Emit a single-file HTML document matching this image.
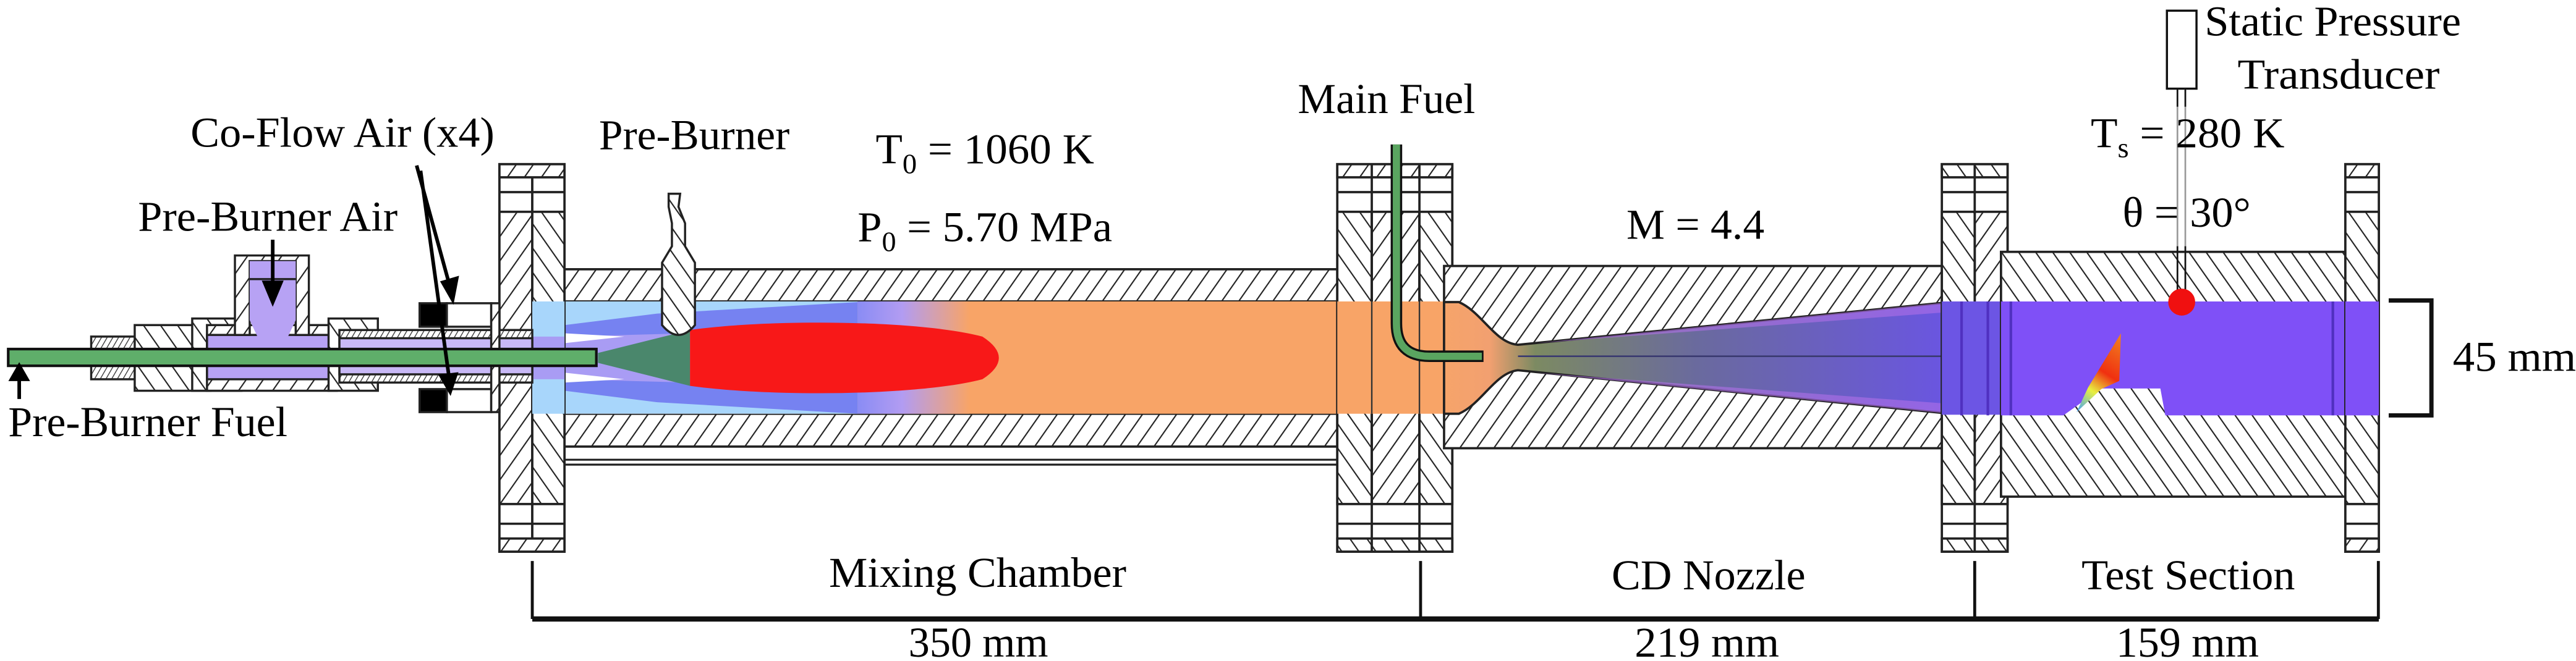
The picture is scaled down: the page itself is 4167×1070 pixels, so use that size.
<!DOCTYPE html>
<html><head><meta charset="utf-8"><style>
html,body{margin:0;padding:0;background:#fff;}
svg{display:block;}
text{font-family:"Liberation Serif","Times New Roman",serif;fill:#000;}
</style></head><body>
<svg width="4167" height="1070" viewBox="0 0 1568 402.6" preserveAspectRatio="none" xmlns="http://www.w3.org/2000/svg">
<defs>
<pattern id="h1" patternUnits="userSpaceOnUse" width="8.5" height="8.5" patternTransform="rotate(35)">
<rect width="8.5" height="8.5" fill="#fff"/><line x1="0" y1="0" x2="0" y2="8.5" stroke="#222" stroke-width="1.6"/></pattern>
<pattern id="h2" patternUnits="userSpaceOnUse" width="8.5" height="8.5" patternTransform="rotate(-35)">
<rect width="8.5" height="8.5" fill="#fff"/><line x1="0" y1="0" x2="0" y2="8.5" stroke="#222" stroke-width="1.6"/></pattern>
<pattern id="h3" patternUnits="userSpaceOnUse" width="3" height="3" patternTransform="rotate(30)">
<rect width="3" height="3" fill="#fff"/><line x1="0" y1="0" x2="0" y2="3" stroke="#333" stroke-width="1"/></pattern>
<linearGradient id="mix" x1="522" x2="590" y1="0" y2="0" gradientUnits="userSpaceOnUse">
<stop offset="0" stop-color="#8a8cf4"/><stop offset="0.4" stop-color="#b29cf2"/><stop offset="1" stop-color="#f8a467"/></linearGradient>
<linearGradient id="noz" x1="879" x2="1187" y1="0" y2="0" gradientUnits="userSpaceOnUse">
<stop offset="0" stop-color="#f6a46a"/><stop offset="0.09" stop-color="#f2a070"/><stop offset="0.18" stop-color="#7c8a62"/><stop offset="0.5" stop-color="#6a6a9e"/><stop offset="1" stop-color="#6a55e2"/></linearGradient>
<linearGradient id="flame" x1="1262" x2="1292" y1="250" y2="205" gradientUnits="userSpaceOnUse">
<stop offset="0" stop-color="#3aa0ff"/><stop offset="0.3" stop-color="#e8f040"/><stop offset="0.55" stop-color="#f03010"/><stop offset="1" stop-color="#f08020"/></linearGradient>
</defs>

<!-- ===== Mixing chamber ===== -->
<rect x="343.6" y="164" width="470.4" height="19.6" fill="url(#h1)" stroke="#222" stroke-width="1.4"/>
<rect x="343.6" y="252" width="470.4" height="20" fill="url(#h1)" stroke="#222" stroke-width="1.4"/>
<line x1="343.6" y1="280" x2="814" y2="280" stroke="#222" stroke-width="1.2"/>
<line x1="343.6" y1="283" x2="814" y2="283" stroke="#222" stroke-width="1.2"/>
<rect x="343.6" y="183.6" width="470.4" height="68.4" fill="#f8a467"/>
<rect x="343.6" y="183.6" width="178.4" height="68.4" fill="#a8d6fb"/>
<rect x="522" y="183.6" width="68" height="68.4" fill="url(#mix)"/>
<polygon points="343.6,198 400,191 522,184 522,200 420,205 343.6,207" fill="#7682f1"/>
<polygon points="343.6,229 420,231 522,236 522,252 400,245 343.6,238" fill="#7682f1"/>
<polygon points="343.6,205 420,203 522,200 522,236 420,233 343.6,231" fill="#a99cf4"/>
<polygon points="343.6,203 380,205 343.6,209" fill="#fff"/>
<polygon points="343.6,227 380,231 343.6,233" fill="#fff"/>
<path d="M364,215 L420,201 L420,235 L364,221 Z" fill="#4a876c"/>
<path d="M420,201 C470,194 560,195 598,205 Q618,218 598,231 C560,241 470,242 420,235 Z" fill="#f81818"/>
<line x1="814" y1="183.6" x2="814" y2="252" stroke="#222" stroke-width="1"/>
<!-- igniter -->
<path d="M407,118 L414,118 L413,126 L417,136 L417,150 L423,160 L423,198 Q413,210 403,198 L403,160 L409,150 L409,136 L407,126 Z" fill="url(#h2)" stroke="#222" stroke-width="1.3"/>

<!-- ===== Flange 1 ===== -->
<g stroke="#222" stroke-width="1.4">
<rect x="304" y="100" width="20" height="236" fill="#fff"/>
<rect x="324" y="100" width="19.6" height="236" fill="#fff"/>
<rect x="304" y="129" width="20" height="178" fill="url(#h1)"/>
<rect x="324" y="129" width="19.6" height="178" fill="url(#h2)"/>
<rect x="304" y="100" width="39.6" height="8" fill="url(#h1)"/>
<rect x="304" y="328" width="39.6" height="8" fill="url(#h1)"/>
<line x1="304" y1="117" x2="343.6" y2="117"/><line x1="304" y1="319" x2="343.6" y2="319"/>
</g>
<rect x="324" y="183.6" width="19.6" height="68.4" fill="#a8d6fb"/>
<polygon points="324,205 343.6,205 343.6,231 324,231" fill="#a99cf4"/>

<!-- ===== Injector assembly ===== -->
<g stroke="#222" stroke-width="1.3">
<rect x="55.5" y="205" width="27" height="26" fill="url(#h3)"/>
<rect x="82" y="198" width="46" height="40" fill="url(#h2)"/>
<rect x="117" y="194" width="30" height="44" fill="url(#h2)"/>
<rect x="126" y="198" width="79" height="40" fill="url(#h1)"/>
<rect x="126" y="204" width="79" height="27" fill="#b7a2f4"/>
<path d="M143,155.6 L188,155.6 L188,204 L180,204 L180,159 L152,159 L152,204 L143,204 Z" fill="url(#h1)"/>
<path d="M152,159 L180,159 L180,195 L172,212 L160,212 L152,195 Z" fill="#b7a2f4" stroke="none"/>
<line x1="152" y1="170" x2="180" y2="170"/>
<rect x="200" y="194" width="30" height="44" fill="url(#h2)"/>
<rect x="206.6" y="201" width="117.4" height="32" fill="url(#h3)"/>
<rect x="206.6" y="206" width="117.4" height="22" fill="#c8b8f6"/>
<rect x="255.4" y="184.7" width="16.6" height="14.3" fill="#000"/>
<rect x="255.4" y="237" width="16.6" height="14" fill="#000"/>
<rect x="272" y="184.7" width="27" height="14.3" fill="#fff"/>
<rect x="272" y="237" width="27" height="14" fill="#fff"/>
<rect x="299" y="184.7" width="5" height="66.3" fill="url(#h1)"/>
</g>
<rect x="5" y="212.6" width="358" height="10.2" fill="#5fae6a" stroke="#111" stroke-width="1.6"/>
<g stroke="#000" stroke-width="2.2" fill="#000">
<line x1="166" y1="146" x2="166" y2="178"/><polygon points="161,172 171,172 166,184"/>
<line x1="11.7" y1="243" x2="11.7" y2="229"/><polygon points="7,231 16.4,231 11.7,222.8"/>
<line x1="253.6" y1="100.8" x2="274" y2="175"/><polygon points="269.5,172 278,169.5 275.5,182.5"/>
<line x1="256" y1="104" x2="273.5" y2="231"/><polygon points="268.5,229 277.5,228 274,238.5"/>
</g>

<!-- ===== Flange 2 ===== -->
<g stroke="#222" stroke-width="1.4">
<rect x="814" y="100" width="70" height="236" fill="#fff"/>
<rect x="814" y="129" width="21" height="178" fill="url(#h2)"/>
<rect x="835" y="129" width="29" height="178" fill="url(#h1)"/>
<rect x="864" y="129" width="20" height="178" fill="url(#h2)"/>
<rect x="814" y="100" width="70" height="8" fill="url(#h1)"/>
<rect x="814" y="328" width="70" height="8" fill="url(#h2)"/>
<line x1="814" y1="117" x2="884" y2="117"/><line x1="814" y1="319" x2="884" y2="319"/>
<line x1="835" y1="100" x2="835" y2="336"/><line x1="864" y1="100" x2="864" y2="336"/>
</g>
<rect x="814" y="183.6" width="70" height="68.4" fill="#f8a467"/>
<g stroke="#333" stroke-width="0.9"><line x1="835" y1="183.6" x2="835" y2="252"/><line x1="864" y1="183.6" x2="864" y2="252"/></g>

<!-- ===== Nozzle ===== -->
<rect x="879" y="162" width="308" height="111" fill="url(#h1)" stroke="#222" stroke-width="1.4"/>
<path d="M879,184 L888,184 C902,190 910,209 924,210 L1187,184 L1187,252 L924,225.5 C910,227 902,246 888,252 L879,252 Z" fill="url(#noz)" stroke="#222" stroke-width="1.4"/>
<polygon points="935,209 1187,184 1187,190" fill="#b070e8" opacity="0.6"/>
<polygon points="935,227 1187,252 1187,246" fill="#b070e8" opacity="0.6"/>
<line x1="924" y1="217" x2="1187" y2="217" stroke="#3a3a70" stroke-width="1"/>
<path d="M850,88 L850,197 Q850,217 870,217 L903,217" fill="none" stroke="#111" stroke-width="7"/>
<path d="M850,88 L850,197 Q850,217 870,217 L902,217" fill="none" stroke="#5aa560" stroke-width="4.4"/>

<!-- ===== Flange 3 ===== -->
<g stroke="#222" stroke-width="1.4">
<rect x="1182" y="100" width="40" height="236" fill="#fff"/>
<rect x="1182" y="129" width="20" height="178" fill="url(#h2)"/>
<rect x="1202" y="129" width="20" height="178" fill="url(#h1)"/>
<rect x="1182" y="100" width="40" height="8" fill="url(#h2)"/>
<rect x="1182" y="328" width="40" height="8" fill="url(#h2)"/>
<line x1="1182" y1="117" x2="1222" y2="117"/><line x1="1182" y1="319" x2="1222" y2="319"/>
<line x1="1202" y1="100" x2="1202" y2="336"/>
</g>
<rect x="1182" y="183.6" width="40" height="69" fill="#6c55e4"/>

<!-- ===== Test section ===== -->
<rect x="1218" y="153.4" width="214.5" height="149.1" fill="url(#h2)" stroke="#222" stroke-width="1.4"/>
<polygon points="1218,183.6 1432.5,183.6 1432.5,253 1318,253 1315,236.6 1279,236.6 1256,253 1218,253" fill="#7f50f7"/>
<g stroke="#5030c0" stroke-width="1.6"><line x1="1194" y1="183.6" x2="1194" y2="253"/><line x1="1210" y1="183.6" x2="1210" y2="253"/><line x1="1224" y1="183.6" x2="1224" y2="253"/><line x1="1420" y1="183.6" x2="1420" y2="253"/></g>
<polygon points="1291,203 1290,232 1279,237 1264,251 1271,236" fill="url(#flame)"/>

<!-- ===== Flange 4 ===== -->
<g stroke="#222" stroke-width="1.4">
<rect x="1427.6" y="100" width="20.4" height="236" fill="#fff"/>
<rect x="1427.6" y="129" width="20.4" height="178" fill="url(#h2)"/>
<rect x="1427.6" y="100" width="20.4" height="8" fill="url(#h1)"/>
<rect x="1427.6" y="328" width="20.4" height="8" fill="url(#h1)"/>
<line x1="1427.6" y1="117" x2="1448" y2="117"/><line x1="1427.6" y1="319" x2="1448" y2="319"/>
</g>
<rect x="1427.6" y="183.6" width="20.4" height="69.4" fill="#7f50f7"/>

<rect x="1319" y="6.5" width="18" height="47.5" fill="#fff" stroke="#111" stroke-width="1.3"/>
<g stroke="#999" stroke-width="1"><line x1="1325.4" y1="54" x2="1325.4" y2="177"/><line x1="1330.2" y1="54" x2="1330.2" y2="177"/></g>
<g stroke="#111" stroke-width="1"><line x1="1325.4" y1="54" x2="1325.4" y2="65"/><line x1="1330.2" y1="54" x2="1330.2" y2="65"/><line x1="1325.4" y1="150" x2="1325.4" y2="177"/><line x1="1330.2" y1="150" x2="1330.2" y2="177"/></g>
<circle cx="1328" cy="184" r="8.2" fill="#f01010"/>

<path d="M1454,183 L1480,183 L1480,253 L1454,253" fill="none" stroke="#111" stroke-width="2.6"/>

<g stroke="#111"><line x1="324" y1="377" x2="1448" y2="377" stroke-width="3.2"/>
<line x1="324" y1="341.7" x2="324" y2="377" stroke-width="1.8"/>
<line x1="864.7" y1="341.7" x2="864.7" y2="377" stroke-width="1.8"/>
<line x1="1202" y1="341.7" x2="1202" y2="377" stroke-width="1.8"/>
<line x1="1447.7" y1="341.7" x2="1447.7" y2="377" stroke-width="1.8"/></g>

<g font-size="26" font-family="Liberation Serif, Times New Roman, serif">
<text x="116" y="89.3" textLength="185" lengthAdjust="spacingAndGlyphs">Co-Flow Air (x4)</text>
<text x="364.6" y="90.9" textLength="116" lengthAdjust="spacingAndGlyphs">Pre-Burner</text>
<text x="84" y="140.5" textLength="158" lengthAdjust="spacingAndGlyphs">Pre-Burner Air</text>
<text x="5" y="265.7" textLength="170" lengthAdjust="spacingAndGlyphs">Pre-Burner Fuel</text>
<text x="533" y="99.6" textLength="133" lengthAdjust="spacingAndGlyphs">T<tspan font-size="17" dy="6">0</tspan><tspan dy="-6"> = 1060 K</tspan></text>
<text x="522" y="147" textLength="155" lengthAdjust="spacingAndGlyphs">P<tspan font-size="17" dy="6">0</tspan><tspan dy="-6"> = 5.70 MPa</tspan></text>
<text x="790" y="68.9" textLength="108" lengthAdjust="spacingAndGlyphs">Main Fuel</text>
<text x="990" y="145.5" textLength="84" lengthAdjust="spacingAndGlyphs">M = 4.4</text>
<text x="1342" y="21.6" textLength="156" lengthAdjust="spacingAndGlyphs">Static Pressure</text>
<text x="1362" y="54" textLength="123" lengthAdjust="spacingAndGlyphs">Transducer</text>
<text x="1272.6" y="89.7" textLength="118" lengthAdjust="spacingAndGlyphs">T<tspan font-size="17" dy="6">s</tspan><tspan dy="-6"> = 280 K</tspan></text>
<text x="1292" y="138" textLength="78" lengthAdjust="spacingAndGlyphs">θ = 30°</text>
<text x="1493" y="226" textLength="75" lengthAdjust="spacingAndGlyphs">45 mm</text>
<text x="504.6" y="357.5" textLength="181" lengthAdjust="spacingAndGlyphs">Mixing Chamber</text>
<text x="981" y="359" textLength="118" lengthAdjust="spacingAndGlyphs">CD Nozzle</text>
<text x="1267" y="359" textLength="130" lengthAdjust="spacingAndGlyphs">Test Section</text>
<text x="553" y="400" textLength="85" lengthAdjust="spacingAndGlyphs">350 mm</text>
<text x="995" y="400" textLength="88" lengthAdjust="spacingAndGlyphs">219 mm</text>
<text x="1288" y="400" textLength="87" lengthAdjust="spacingAndGlyphs">159 mm</text>
</g>
</svg>
</body></html>
